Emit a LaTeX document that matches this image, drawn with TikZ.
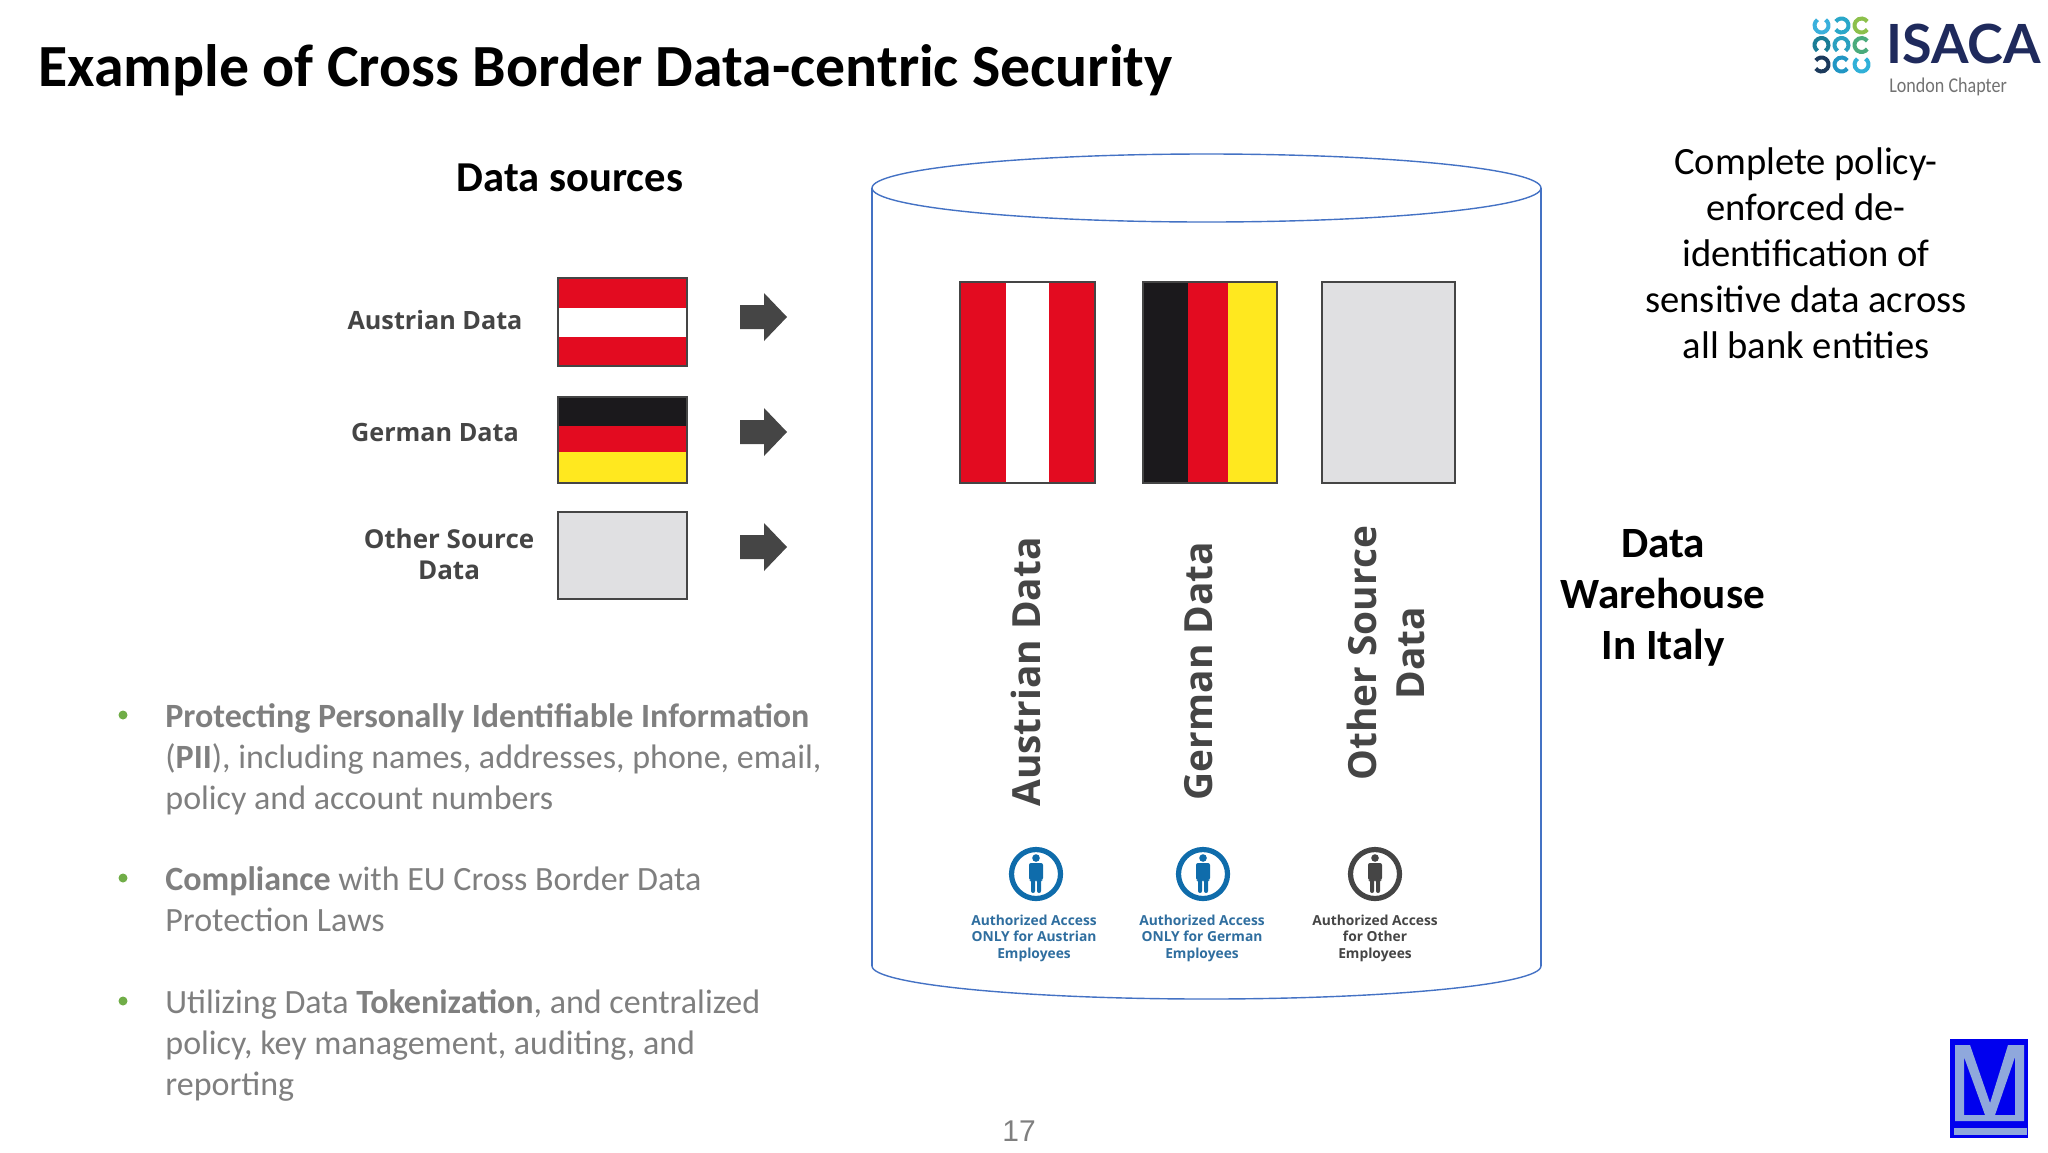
\documentclass[tikz,border=0pt]{standalone}
\usepackage{fontspec}
\setmainfont{Carlito}
\newfontfamily\labelfont{Open Sans}
\newfontfamily\logofont{Lato}
\newfontfamily\pagefont{Liberation Sans}
\definecolor{flagred}{HTML}{E30B20}
\definecolor{flagblack}{HTML}{1B191C}
\definecolor{flagyellow}{HTML}{FFE81F}
\definecolor{flaggrey}{HTML}{E0E0E2}
\definecolor{edgegrey}{HTML}{454545}
\definecolor{tankblue}{HTML}{4472C4}
\definecolor{bodygrey}{HTML}{7F7F7F}
\definecolor{bulletgreen}{HTML}{70AD47}
\definecolor{accessblue}{HTML}{0F6CAB}
\definecolor{accesstext}{HTML}{2F6E9F}
\definecolor{isacanavy}{HTML}{1F2A5C}
\definecolor{markblue}{HTML}{0000EE}
\definecolor{marklight}{HTML}{8FA8DC}
\tikzset{
	flagedge/.style={draw=edgegrey,line width=1.3pt},
	sidelabel/.style={font=\labelfont\bfseries\fontsize{12.6}{15.5}\selectfont,text=edgegrey,align=center,inner sep=0pt},
	turnlabel/.style={font=\labelfont\bfseries\fontsize{19.4}{24}\selectfont,text=edgegrey,align=center,inner sep=0pt,rotate=90},
	accesslabel/.style={font=\labelfont\bfseries\fontsize{6.9}{8.2}\selectfont,align=center,inner sep=0pt},
	bodytext/.style={font=\fontsize{17}{20.5}\selectfont,text=bodygrey,anchor=north west,align=left,inner sep=0pt},
	heading/.style={font=\bfseries\fontsize{21.6}{25.5}\selectfont,align=center,inner sep=0pt}
}
\begin{document}
\begin{tikzpicture}[x=.5pt,y=-.5pt]
	\useasboundingbox (0,0) rectangle (2048,1152);
	\path
	(872,188) coordinate (TL)
	(1541,188) coordinate (TR)
	(872,966) coordinate (BL)
	(1541,966) coordinate (BR)
	(1206.5,188) coordinate (TC);
	\node[font=\bfseries\fontsize{29.9}{34}\selectfont,anchor=base west,inner sep=0pt] (title) at (38,86) {Example of Cross Border Data-centric Security};
	\node[heading,font=\bfseries\fontsize{21.3}{25}\selectfont] (sources) at (570,178) {Data sources};
	\node[sidelabel] (austrianlabel) at (435,320) {Austrian Data};
	\node[sidelabel] (germanlabel) at (435,432) {German Data};
	\node[sidelabel,font=\labelfont\bfseries\fontsize{13}{15.5}\selectfont] (otherlabel) at (449,554) {Other Source\\Data};
	\fill[flagred] (558,278) rectangle (687,366);
	\fill[white] (558,308) rectangle (687,337);
	\draw[flagedge] (558,278) rectangle (687,366);
	\fill[flagblack] (558,397) rectangle (687,426);
	\fill[flagred] (558,426) rectangle (687,452);
	\fill[flagyellow] (558,452) rectangle (687,483);
	\draw[flagedge] (558,397) rectangle (687,483);
	\draw[flagedge,fill=flaggrey] (558,512) rectangle (687,599);
	\foreach \tip in {317,432,547}
		\fill[edgegrey] (740,\tip-12) -- (764,\tip-12) -- (764,\tip-24) -- (787,\tip) -- (764,\tip+24) -- (764,\tip+12) -- (740,\tip+12) -- cycle;
	\draw[tankblue,line width=.7pt] (BL)--(TL) (TR)--(BR);
	\draw[tankblue,line width=.7pt] (TC) ellipse[x radius=334.5,y radius=34];
	\draw[tankblue,line width=.7pt] (BL) arc[start angle=180,end angle=0,x radius=334.5,y radius=33];
	\fill[flagred] (960,282) rectangle (1095,483);
	\fill[white] (1006,282) rectangle (1049,483);
	\draw[flagedge] (960,282) rectangle (1095,483);
	\fill[flagblack] (1143,282) rectangle (1188,483);
	\fill[flagred] (1188,282) rectangle (1228,483);
	\fill[flagyellow] (1228,282) rectangle (1277,483);
	\draw[flagedge] (1143,282) rectangle (1277,483);
	\draw[flagedge,fill=flaggrey] (1322,282) rectangle (1455,483);
	\node[turnlabel] (austrianturn) at (1026,672) {Austrian Data};
	\node[turnlabel] (germanturn) at (1199,671) {German Data};
	\node[turnlabel] (otherturn) at (1386,653) {Other Source\\Data};
	\foreach \cx/\col in {1036/accessblue,1203/accessblue,1375/edgegrey}{
		\draw[\col,line width=2.6pt] (\cx,874) circle[radius=24.5];
		\fill[\col] (\cx,858) circle[radius=3.8];
		\fill[\col,rounded corners=1pt] (\cx-7,863) -- (\cx+7,863) -- (\cx+7,880) -- (\cx+5,880) -- (\cx+5,893) -- (\cx+1,893) -- (\cx+1,880) -- (\cx-1,880) -- (\cx-1,893) -- (\cx-5,893) -- (\cx-5,880) -- (\cx-7,880) -- cycle;
	}
	\node[accesslabel,text=accesstext] (austrianaccess) at (1034,938) {Authorized Access\\ONLY for Austrian\\Employees};
	\node[accesslabel,text=accesstext] (germanaccess) at (1202,938) {Authorized Access\\ONLY for German\\Employees};
	\node[accesslabel,text=edgegrey] (otheraccess) at (1375,938) {Authorized Access\\for Other\\Employees};
	\node[font=\fontsize{19.3}{23}\selectfont,align=center,inner sep=0pt] (policy) at (1806,253) {Complete policy-\\enforced de-\\identification of\\sensitive data across\\all bank entities};
	\node[heading] (warehouse) at (1663,598) {Data\\Warehouse\\In Italy};
	\node[bodytext] (pii) at (165,703) {\textbf{Protecting Personally Identifiable Information}\\(\textbf{PII}), including names, addresses, phone, email,\\policy and account numbers};
	\node[bodytext] (compliance) at (165,866) {\textbf{Compliance} with EU Cross Border Data\\Protection Laws};
	\node[bodytext] (tokens) at (165,989) {Utilizing Data \textbf{Tokenization}, and centralized\\policy, key management, auditing, and\\reporting};
	\foreach \by in {715,878,1001}
		\fill[bulletgreen] (123,\by) circle[radius=4.5];
	\node[font=\pagefont\fontsize{15}{18}\selectfont,text=bodygrey,inner sep=0pt] (pagenum) at (1019,1131) {17};
	\foreach \cx/\cy/\col/\gap in {
		1821.5/25.5/3AB0DC/270,1841.5/25.5/2AA7C9/180,1861.5/25.5/8CC04B/0,
		1821.5/45/1A7D96/90,1841.5/45/2AA0C0/90,1861.5/45/4AAB7C/0,
		1821.5/64.5/1C3A5C/180,1841.5/64.5/2196C4/0,1861.5/64.5/30B0D8/270}{
		\definecolor{ringcol}{HTML}{\col}
		\draw[ringcol,line width=2pt] (\cx,\cy) ++(\gap+35:7) arc[start angle=\gap+35,end angle=\gap+325,radius=7];
	}
	\node[font=\logofont\bfseries\fontsize{27}{30}\selectfont,text=isacanavy,anchor=base west,inner sep=0pt] (isaca) at (1886,63) {ISACA};
	\node[font=\fontsize{10.5}{12}\selectfont,text=bodygrey!90!black,anchor=base west,inner sep=0pt,xscale=.86] (chapter) at (1889,92) {London Chapter};
	\fill[markblue] (1950,1039) rectangle (2028,1138);
	\fill[marklight,even odd rule] (1955,1045) -- (1970,1045) -- (1990,1103) -- (2008,1045) -- (2024,1045) -- (2024,1121) -- (1955,1121) -- cycle
	(1964,1057) -- (1964,1115) -- (1985,1115) -- cycle
	(2015,1057) -- (2015,1115) -- (1995,1115) -- cycle;
	\fill[marklight] (1954,1128) rectangle (2027,1135);
\end{tikzpicture}
\end{document}
